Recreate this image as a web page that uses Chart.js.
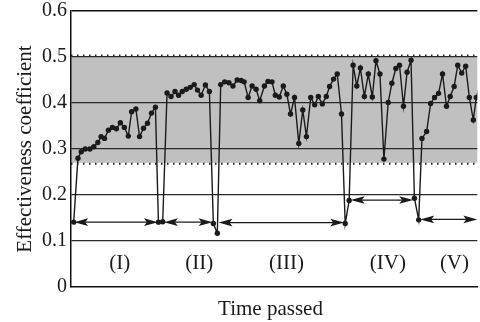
<!DOCTYPE html>
<html>
<head>
<meta charset="utf-8">
<script src="https://cdn.jsdelivr.net/npm/chart.js@4/dist/chart.umd.min.js"></script>
<style>
  html, body { margin: 0; padding: 0; background: #fff; overflow: hidden; }
  #box { width: 480px; height: 322px; position: relative; }
</style>
</head>
<body>
<div id="box"><canvas id="grafico"></canvas></div>
<script>
// time passed (arbitrary units) and effectiveness coefficient
var tempo = [2.7, 7, 10.3, 14.3, 19, 23, 27, 30.3, 33.7, 37.7, 41.7, 45.7, 49.7, 53.7, 57.7, 61, 65.3, 69, 73, 77, 81, 85,
  88, 92.3, 96.7, 100.7, 104.7, 108.3, 112, 116, 120, 124, 127.3, 131, 135.3, 139.3,
  143.3, 147.3, 150.7, 154.7, 159, 163, 167.3, 171.3, 174.3, 178.3, 182.3, 186.3, 190, 194.7, 198.3, 202.3,
  205.7, 209.7, 213.7, 217.3, 221, 225, 229.3, 233.3, 237, 241.3, 245.3, 249, 253, 257, 260.3, 264.3, 268, 272.3,
  276, 280, 284, 287.7, 291.3, 295.3, 299.3, 303.3, 307, 311, 315, 319.3, 323, 327, 330.7, 334.7, 338.3, 342.3,
  345.7, 350, 353.3, 358, 362, 366, 370, 374, 378, 381.7, 385.7, 389.3, 393.3, 397.3, 401, 405, 408, 412];
var coeficiente = [0.141, 0.28, 0.294, 0.300, 0.300, 0.305, 0.314, 0.327, 0.323, 0.341, 0.347, 0.344, 0.357, 0.347, 0.328, 0.381, 0.387, 0.327, 0.345, 0.356, 0.378, 0.391,
  0.141, 0.142, 0.422, 0.414, 0.425, 0.417, 0.425, 0.430, 0.434, 0.440, 0.428, 0.417, 0.439, 0.425,
  0.138, 0.117, 0.440, 0.446, 0.444, 0.437, 0.450, 0.449, 0.446, 0.412, 0.437, 0.430, 0.405, 0.437, 0.447, 0.446,
  0.417, 0.413, 0.437, 0.419, 0.376, 0.412, 0.312, 0.385, 0.327, 0.412, 0.396, 0.414, 0.398, 0.414, 0.436, 0.452, 0.463, 0.376,
  0.138, 0.188, 0.482, 0.437, 0.476, 0.414, 0.463, 0.413, 0.492, 0.463, 0.278, 0.401, 0.443, 0.475, 0.482, 0.393, 0.467, 0.493,
  0.193, 0.146, 0.323, 0.338, 0.399, 0.412, 0.421, 0.463, 0.393, 0.414, 0.436, 0.482, 0.465, 0.480, 0.412, 0.363, 0.412, 0.44];

var yTicks = [0, 0.1, 0.2, 0.3, 0.4, 0.5, 0.6];
var faixaMin = 0.27;   // grey band
var faixaMax = 0.5;

// period arrows: start, end, level
var setaInicio = [3.2, 93.5, 148.5, 281.5, 351.5];
var setaFim = [87.5, 142.5, 275, 344.5, 409];
var setaNivel = [0.141, 0.141, 0.14, 0.189, 0.147];
var periodos = ['(I)', '(II)', '(III)', '(IV)', '(V)'];
var periodoX = [49, 129, 217, 319, 386];
var periodoNivel = 0.052;

var pontos = tempo.map(function(t, i){ return {x: t, y: coeficiente[i]}; });
var fonte = "'Liberation Serif', 'DejaVu Serif', serif";

var faixaPlugin = {
  id: 'faixa',
  beforeDraw: function(chart){
    var ctx = chart.ctx, a = chart.chartArea, y = chart.scales.y;
    var yTop = y.getPixelForValue(faixaMax), yBot = y.getPixelForValue(faixaMin);
    ctx.save();
    ctx.fillStyle = '#c0c0c0';
    ctx.fillRect(a.left, yTop, a.right - a.left, yBot - yTop);
    ctx.strokeStyle = '#222';
    ctx.lineWidth = 2;
    ctx.setLineDash([1.5, 4.5]);
    ctx.beginPath();
    ctx.moveTo(a.left, yTop - 1.5); ctx.lineTo(a.right, yTop - 1.5);
    ctx.moveTo(a.left, yBot + 1); ctx.lineTo(a.right, yBot + 1);
    ctx.stroke();
    ctx.restore();
  }
};

function ponta(ctx, x, y, dir){
  ctx.beginPath();
  ctx.moveTo(x, y);
  ctx.lineTo(x + dir * 14, y - 3.8);
  ctx.lineTo(x + dir * 11, y);
  ctx.lineTo(x + dir * 14, y + 3.8);
  ctx.closePath();
  ctx.fill();
}

var setasPlugin = {
  id: 'setas',
  afterDatasetsDraw: function(chart){
    var ctx = chart.ctx, sx = chart.scales.x, sy = chart.scales.y, a = chart.chartArea;
    ctx.save();
    ctx.beginPath();
    ctx.rect(a.left, 0, a.right - a.left, chart.height);
    ctx.clip();
    ctx.strokeStyle = '#1a1a1a';
    ctx.fillStyle = '#1a1a1a';
    ctx.lineWidth = 1.3;
    for(let i=0;i<setaInicio.length;i++){
      let x1 = sx.getPixelForValue(setaInicio[i]);
      let x2 = sx.getPixelForValue(setaFim[i]);
      let yy = sy.getPixelForValue(setaNivel[i]);
      ctx.beginPath();
      ctx.moveTo(x1 + 8, yy); ctx.lineTo(x2 - 8, yy);
      ctx.stroke();
      ponta(ctx, x1, yy, 1);
      ponta(ctx, x2, yy, -1);
    }
    ctx.restore();
    ctx.save();
    ctx.fillStyle = '#1a1a1a';
    ctx.font = '21px ' + fonte;
    ctx.textAlign = 'center';
    ctx.textBaseline = 'middle';
    for(let i=0;i<periodos.length;i++){
      ctx.fillText(periodos[i], sx.getPixelForValue(periodoX[i]), sy.getPixelForValue(periodoNivel));
    }
    // x axis title
    ctx.fillText('Time passed', a.left + 199.5, 309.5);
    ctx.restore();
  }
};

new Chart(document.getElementById('grafico'), {
  type: 'line',
  data: {
    datasets: [{
      label: 'Effectiveness coefficient',
      data: pontos,
      borderColor: '#1a1a1a',
      backgroundColor: '#1a1a1a',
      borderWidth: 1.4,
      pointRadius: 2.7,
      pointHoverRadius: 2.7,
      pointBorderWidth: 0,
      tension: 0,
    }]
  },
  options: {
    responsive: true,
    maintainAspectRatio: false,
    animation: false,
    events: [],
    layout: { padding: { top: 11, right: 0, left: 0, bottom: 0 } },
    plugins: {
      legend: { display: false },
      tooltip: { enabled: false }
    },
    scales: {
      x: {
        type: 'linear',
        min: 0,
        max: 409,
        ticks: { display: false },
        grid: { display: false },
        border: { display: true, color: '#111', width: 1.5 },
        afterFit: function(s){ s.height = 35; s.paddingLeft = 0; s.paddingRight = 0; }
      },
      y: {
        min: 0,
        max: 0.6,
        afterBuildTicks: function(s){ s.ticks = yTicks.map(function(v){ return {value: v}; }); },
        ticks: {
          color: '#1a1a1a',
          padding: 4,
          font: { family: fonte, size: 20 },
          callback: function(v){ return v === 0 ? '0' : v.toFixed(1); }
        },
        grid: {
          drawTicks: false,
          lineWidth: function(c){ return c.tick && c.tick.value >= 0.59 ? 1.5 : 1.2; },
          color: function(c){
            if(!c.tick || c.tick.value === 0) return 'rgba(0,0,0,0)';
            return c.tick.value >= 0.59 ? '#111' : '#2a2a2a';
          }
        },
        border: { display: true, color: '#111', width: 1.5 },
        title: {
          display: true,
          text: 'Effectiveness coefficient',
          color: '#1a1a1a',
          font: { family: fonte, size: 21 },
          padding: { top: 13, bottom: 0 }
        },
        afterFit: function(s){ s.width = 71; s.paddingTop = 0; s.paddingBottom = 0; }
      }
    }
  },
  plugins: [faixaPlugin, setasPlugin]
});
</script>
</body>
</html>
